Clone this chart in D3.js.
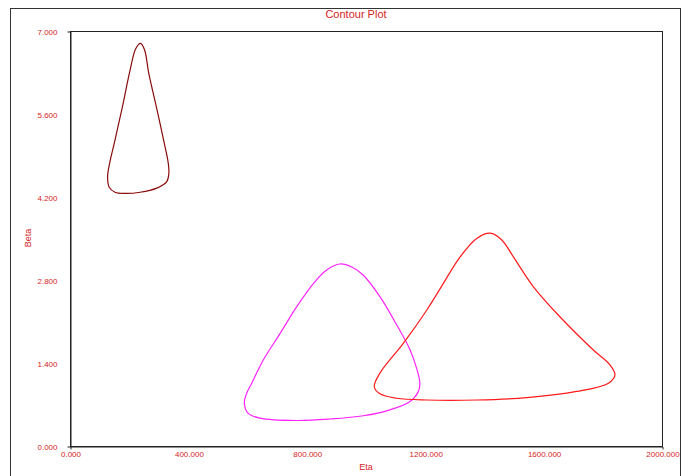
<!DOCTYPE html>
<html>
<head>
<meta charset="utf-8">
<script src="https://cdn.jsdelivr.net/npm/d3@7"></script>
<style>
  body { margin: 0; background: #fff; }
  text { font-family: "Liberation Sans", Arial, sans-serif; }
</style>
</head>
<body>
<div id="chart"></div>
<script>
// contour outlines as [eta, beta]
var contourDark = [
  [238, 6.79], [222, 6.70], [203, 6.34], [177, 5.72], [152, 5.16], [134, 4.77],
  [127, 4.54], [132, 4.37], [152, 4.28], [186, 4.26], [237, 4.28], [293, 4.35],
  [327, 4.46], [334, 4.60], [332, 4.77], [321, 5.05], [294, 5.67], [266, 6.29],
  [252, 6.68]
];
var contourMagenta = [
  [912, 3.07], [867, 2.97], [822, 2.74], [766, 2.35], [710, 1.90], [653, 1.45],
  [614, 1.06], [597, 0.89], [589, 0.73], [602, 0.55], [642, 0.47], [766, 0.43],
  [878, 0.455], [991, 0.51], [1081, 0.61], [1149, 0.75], [1177, 0.92], [1182, 1.06],
  [1171, 1.31], [1149, 1.62], [1104, 2.04], [1047, 2.52], [991, 2.88], [952, 3.02]
];
var contourRed = [
  [1419, 3.59], [1374, 3.50], [1318, 3.19], [1261, 2.74], [1205, 2.29], [1126, 1.73],
  [1047, 1.23], [1028, 1.00], [1047, 0.88], [1104, 0.805], [1205, 0.776], [1374, 0.776],
  [1543, 0.815], [1712, 0.92], [1819, 1.06], [1841, 1.20], [1824, 1.37], [1768, 1.62],
  [1655, 2.18], [1565, 2.69], [1498, 3.19], [1458, 3.48]
];
var contourColors = ['#8b0a0a', '#ff22ff', '#ff1a1a'];
var xTicks = [0, 400, 800, 1200, 1600, 2000];
var yTicks = [0, 1.4, 2.8, 4.2, 5.6, 7];

var width = 686, height = 476;
var margin = { top: 31, left: 70, right: 24, bottom: 30 };
var red = '#d42424';

var svg = d3.select('#chart').append('svg')
    .attr('width', width).attr('height', height);

// outer frame
svg.append('rect')
    .attr('x', 10.5).attr('y', 8.5)
    .attr('width', 670).attr('height', 480)
    .attr('fill', 'none').attr('stroke', '#333').attr('stroke-width', 1);

var x = d3.scaleLinear().domain([0, 2000]).range([margin.left, width - margin.right]);
var y = d3.scaleLinear().domain([0, 7]).range([height - margin.bottom, margin.top]);

// plot area border
svg.append('rect')
    .attr('x', x(0) + 0.5).attr('y', y(7) + 0.5)
    .attr('width', x(2000) - x(0)).attr('height', y(0) - y(7))
    .attr('fill', 'none').attr('stroke', '#222');

var xAxis = svg.append('g')
    .attr('transform', 'translate(0.5,' + (y(0) + 0.5) + ')')
    .call(d3.axisBottom(x).tickValues(xTicks).tickSizeInner(0).tickSizeOuter(3)
          .tickPadding(5).tickFormat(d3.format('.3f')));

var yAxis = svg.append('g')
    .attr('transform', 'translate(' + (x(0) + 0.5) + ',0.5)')
    .call(d3.axisLeft(y).tickValues(yTicks).tickSizeInner(0).tickSizeOuter(3)
          .tickPadding(13).tickFormat(d3.format('.3f')));

[xAxis, yAxis].forEach(function (g) {
  g.select('.domain').attr('stroke', '#222');
  g.selectAll('text').attr('fill', red).style('font-size', '8px')
    .style('font-family', '"Liberation Sans", Arial, sans-serif');
});

svg.append('text')
    .attr('x', 356).attr('y', 18)
    .attr('text-anchor', 'middle')
    .attr('fill', red).style('font-size', '11px')
    .text('Contour Plot');

svg.append('text')
    .attr('x', 366).attr('y', 470)
    .attr('text-anchor', 'middle')
    .attr('fill', red).style('font-size', '9px')
    .text('Eta');

svg.append('text')
    .attr('transform', 'translate(31,238) rotate(-90)')
    .attr('text-anchor', 'middle')
    .attr('fill', red).style('font-size', '9px')
    .text('Beta');

var line = d3.line()
    .x(function (d) { return x(d[0]); })
    .y(function (d) { return y(d[1]); })
    .curve(d3.curveCatmullRomClosed.alpha(0.5));

[contourDark, contourMagenta, contourRed].forEach(function (pts, i) {
  svg.append('path')
      .attr('d', line(pts))
      .attr('fill', 'none')
      .attr('stroke', contourColors[i])
      .attr('stroke-width', 1.2);
});
</script>
</body>
</html>
